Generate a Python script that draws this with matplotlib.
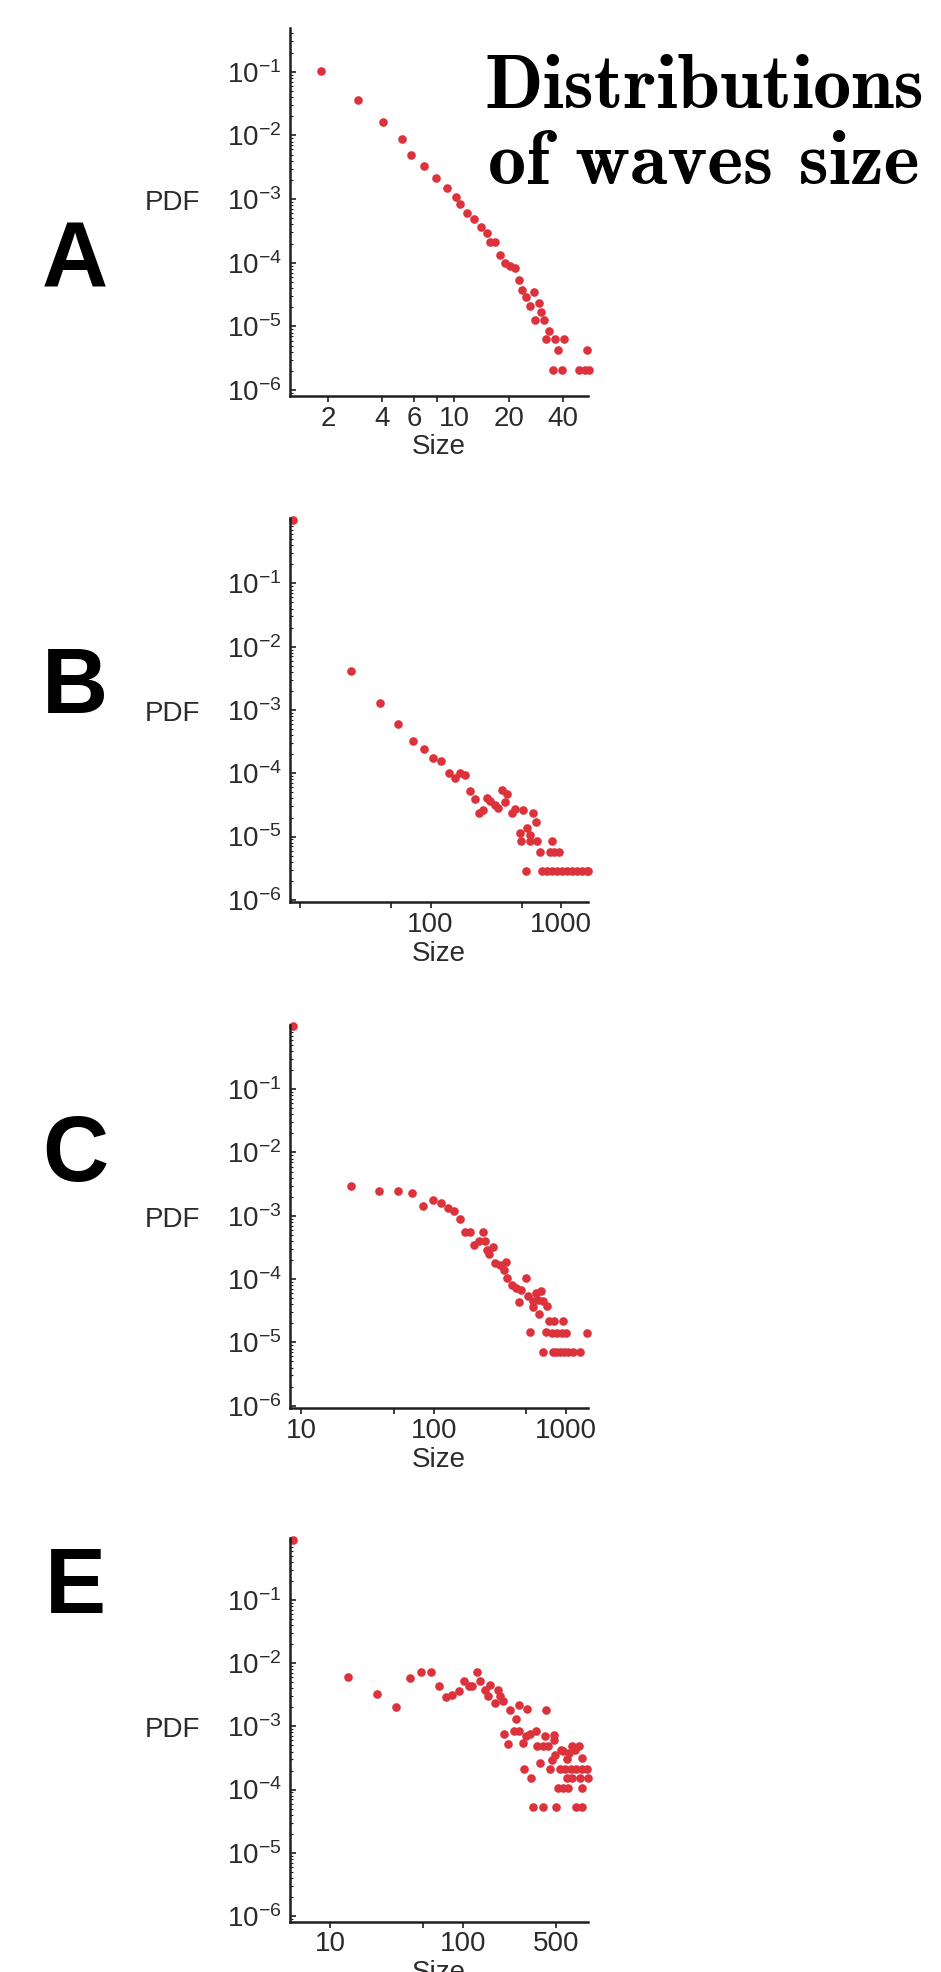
import numpy as np
import matplotlib
matplotlib.use("Agg")
import matplotlib.pyplot as plt
from matplotlib.ticker import FixedLocator, FixedFormatter, LogLocator, NullFormatter
from matplotlib.transforms import blended_transform_factory

plt.rcParams["font.family"] = ["Liberation Sans", "DejaVu Sans"]
plt.rcParams["mathtext.fontset"] = "custom"
plt.rcParams["mathtext.rm"] = "Liberation Sans"
plt.rcParams["mathtext.it"] = "Liberation Sans:italic"
plt.rcParams["mathtext.bf"] = "Liberation Sans:bold"

# Panel A
a_size = [1.82, 2.93, 4.03, 5.15, 5.73, 6.79, 7.94, 9.06, 10.2, 10.7, 11.8, 12.9, 14.1,
          15.1, 15.7, 16.9, 17.9, 19.2, 20.3, 21.8, 22.7, 23.7, 27.7, 25.1, 26.4, 29.3,
          30.2, 28.1, 31.3, 33.6, 32.3, 36.2, 40.3, 37.8, 35.2, 39.7, 54.2, 49.4, 53.1, 56.0]
a_pdf = [0.104, 0.0359, 0.0162, 0.00865, 0.00491, 0.00334, 0.00214, 0.00147, 0.00109,
         8.34e-4, 5.96e-4, 4.85e-4, 3.59e-4, 2.89e-4, 2.14e-4, 2.14e-4, 1.32e-4, 1.0e-4,
         8.97e-5, 8.15e-5, 5.35e-5, 3.72e-5, 3.51e-5, 2.92e-5, 2.11e-5, 2.30e-5, 1.70e-5,
         1.27e-5, 1.27e-5, 8.5e-6, 6.4e-6, 6.4e-6, 6.4e-6, 4.25e-6, 2.1e-6, 2.1e-6,
         4.25e-6, 2.1e-6, 2.1e-6, 2.1e-6]

# Panel B
b_size = [8.8, 24.8, 40.8, 56.6, 72.9, 88.5, 104.7, 121, 138, 155, 169, 185, 202, 221,
          234, 251, 271, 287, 313, 327, 352, 385, 374, 420, 446, 509, 608, 644, 481, 547,
          573, 492, 579, 659, 684, 815, 885, 971, 849, 541,
          711, 778, 849, 927, 1012, 1104, 1205, 1318, 1439, 1570, 1600]
b_pdf = [1.0, 0.00413, 0.00131, 6.01e-4, 3.28e-4, 2.39e-4, 1.77e-4, 1.58e-4, 1.0e-4,
         8.55e-5, 1.0e-4, 9.42e-5, 5.26e-5, 3.94e-5, 2.39e-5, 2.64e-5, 4.13e-5, 3.66e-5,
         3.16e-5, 2.8e-5, 5.46e-5, 4.66e-5, 3.48e-5, 2.33e-5, 2.74e-5, 2.64e-5, 2.33e-5,
         1.72e-5, 1.14e-5, 1.36e-5, 1.06e-5, 8.6e-6, 8.6e-6, 8.6e-6, 5.7e-6, 5.7e-6,
         5.7e-6, 5.7e-6, 8.6e-6, 2.87e-6,
         2.87e-6, 2.87e-6, 2.87e-6, 2.87e-6, 2.87e-6, 2.87e-6, 2.87e-6, 2.87e-6, 2.87e-6,
         2.87e-6, 2.87e-6]

# Panel C
c_size = [8.65, 23.8, 38.9, 53.8, 69.0, 83.6, 98.9, 113.5, 127.6, 143.2, 158.9, 171.4,
          188.8, 233.9, 202.8, 218.3, 244.9, 252.4, 279.9, 260.0, 291.7, 318.4, 353.2,
          337.3, 357.3, 389, 419.8, 444.6, 455, 498.9, 520, 561, 594, 644, 618, 675, 714,
          561, 630, 530, 706, 748, 813, 955, 780, 851, 927, 1000, 1450,
          667, 803, 841, 902, 966, 1042, 1122, 1276]
c_pdf = [1.0, 0.0029, 0.00242, 0.00242, 0.00228, 0.00144, 0.00175, 0.00158, 0.00132,
         0.0012, 8.97e-4, 5.52e-4, 5.52e-4, 5.52e-4, 3.4e-4, 3.94e-4, 3.94e-4, 2.9e-4,
         3.2e-4, 2.51e-4, 1.79e-4, 1.68e-4, 1.85e-4, 1.37e-4, 1.04e-4, 8.15e-5, 7.21e-5,
         4.29e-5, 6.79e-5, 1.04e-4, 5.32e-5, 4.44e-5, 6.01e-5, 6.38e-5, 4.72e-5, 4.44e-5,
         3.7e-5, 3.61e-5, 2.84e-5, 1.44e-5, 1.44e-5, 2.15e-5, 2.15e-5, 2.15e-5, 1.4e-5,
         1.4e-5, 1.4e-5, 1.4e-5, 1.4e-5,
         7.03e-6, 7.03e-6, 7.03e-6, 7.03e-6, 7.03e-6, 7.03e-6, 7.03e-6, 7.03e-6]

# Panel E
e_size = [5.22, 13.7, 22.6, 31.3, 39.8, 48.4, 57.5, 66.5, 75.0, 82.7, 92.8, 101, 110, 117,
          127, 135, 147, 153, 160, 175, 182, 191, 200, 226, 262, 251, 305, 204, 216, 240,
          262, 282, 299, 320, 355, 363, 398, 439, 415, 484, 484, 422, 285, 325, 376, 447,
          465, 493, 543, 569, 631, 657, 696, 750, 781, 603,
          537, 586, 646, 708, 781, 861,
          603, 665, 759, 865,
          522, 569, 620, 781,
          335, 398, 501, 708, 781]
e_pdf = [0.885, 0.00601, 0.00328, 0.00202, 0.00579, 0.00713, 0.00713, 0.00439, 0.0029,
         0.00308, 0.00357, 0.00526, 0.00439, 0.00428, 0.00713, 0.00514, 0.00379, 0.00298,
         0.00455, 0.00233, 0.00379, 0.00298, 0.00248, 0.00183, 0.0022, 0.00131, 0.00188,
         7.66e-4, 5.32e-4, 8.34e-4, 8.34e-4, 5.46e-4, 6.95e-4, 7.66e-4, 8.34e-4, 4.83e-4,
         4.83e-4, 4.83e-4, 6.95e-4, 7.38e-4, 6.15e-4, 0.00183, 2.12e-4, 1.53e-4, 2.64e-4,
         2.12e-4, 2.9e-4, 3.57e-4, 4.29e-4, 4.03e-4, 3.79e-4, 4.83e-4, 4.29e-4, 4.83e-4,
         3.16e-4, 3.05e-4,
         2.12e-4, 2.12e-4, 2.12e-4, 2.12e-4, 2.12e-4, 2.12e-4,
         1.53e-4, 1.53e-4, 1.53e-4, 1.53e-4,
         1.06e-4, 1.06e-4, 1.06e-4, 1.06e-4,
         5.3e-5, 5.3e-5, 5.3e-5, 5.3e-5, 5.3e-5]

panel_letters = ["A", "B", "C", "E"]
x_ticks = [[2, 4, 6, 8, 10, 20, 40], [10, 50, 100, 500, 1000],
           [10, 50, 100, 500, 1000], [10, 50, 100, 500]]
x_tick_labels = [["2", "4", "6", "", "10", "20", "40"], ["", "", "100", "", "1000"],
                 ["10", "", "100", "", "1000"], ["10", "", "100", "500"]]
y_ticks = [1e-1, 1e-2, 1e-3, 1e-4, 1e-5, 1e-6]
y_tick_labels = [r"$\mathregular{10^{-%d}}$" % k for k in range(1, 7)]

panels = [
    (a_size, a_pdf, (1.23, 55.1), (10 ** -6.09, 10 ** -0.32), [0.3082, 0.7993, 0.3167, 0.1863], 286.7),
    (b_size, b_pdf, (8.4, 1607), (10 ** -6.04, 10 ** 0.026), [0.3082, 0.5424, 0.3167, 0.1947], 713),
    (c_size, c_pdf, (8.2, 1466), (10 ** -6.04, 10 ** 0.016), [0.3082, 0.2859, 0.3167, 0.1944], 1181),
    (e_size, e_pdf, (5.0, 871), (10 ** -6.09, 10 ** -0.026), [0.3082, 0.0255, 0.3167, 0.1944], 1613),
]

W, H = 941, 1972
fig = plt.figure(figsize=(W / 100, H / 100), dpi=100)
text_color = "#2b2b2b"
dot_color = "#dc323c"

for i, (xs, ys, xlim, ylim, rect, letter_base) in enumerate(panels):
    ax = fig.add_axes(rect)
    ax.plot(xs, ys, "o", color=dot_color, ms=6.2, mew=0, clip_on=False)
    ax.set_xscale("log")
    ax.set_yscale("log")
    ax.set_xlim(*xlim)
    ax.set_ylim(*ylim)
    for s in ["top", "right"]:
        ax.spines[s].set_visible(False)
    for s in ["left", "bottom"]:
        ax.spines[s].set_linewidth(1.8)
        ax.spines[s].set_color("#1e1e1e")

    ax.xaxis.set_major_locator(FixedLocator(x_ticks[i]))
    ax.xaxis.set_major_formatter(FixedFormatter(x_tick_labels[i]))
    ax.xaxis.set_minor_locator(FixedLocator([]))
    ax.yaxis.set_major_locator(FixedLocator(y_ticks))
    ax.yaxis.set_major_formatter(FixedFormatter(y_tick_labels))
    ax.yaxis.set_minor_locator(LogLocator(base=10, subs=np.arange(2, 10), numticks=20))
    ax.yaxis.set_minor_formatter(NullFormatter())

    ax.tick_params(axis="x", which="major", direction="out", length=4, width=1.2,
                   pad=3, labelsize=20, colors="#1e1e1e", labelcolor=text_color)
    ax.tick_params(axis="y", which="major", direction="in", length=4, width=1.2,
                   pad=6, labelsize=20, colors="#1e1e1e", labelcolor=text_color)
    ax.tick_params(axis="y", which="minor", direction="in", length=2, width=0.8,
                   colors="#1e1e1e")

    ax.set_xlabel("Size", fontsize=20, color=text_color, labelpad=2)
    trans = blended_transform_factory(fig.transFigure, ax.transData)
    ax.text(172 / W, 10 ** -3.06, "PDF", transform=trans, ha="center", va="center",
            fontsize=20, color=text_color)

    fig.text(75 / W, 1 - letter_base / H, panel_letters[i], ha="center", va="baseline",
             fontsize=66, fontweight="bold", color="black")

fig.text(704 / W, 1 - 108.3 / H, "Distributions", ha="center", va="baseline",
         fontsize=55, family="cmb10", color="black")
fig.text(704 / W, 1 - 184 / H, "of waves size", ha="center", va="baseline",
         fontsize=55, family="cmb10", color="black")

fig.savefig("out.png", dpi=100)
